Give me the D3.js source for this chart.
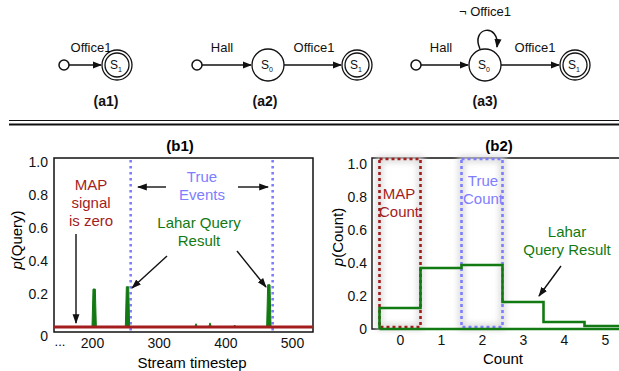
<!DOCTYPE html>
<html>
<head>
<meta charset="utf-8">
<script src="https://cdn.jsdelivr.net/npm/d3@7"></script>
<style>
  body { margin: 0; background: #fff; }
  text { font-family: "Liberation Sans", Arial, Helvetica, sans-serif; }
</style>
</head>
<body>
<script>
// Donnees
var yTicks = [0, 0.2, 0.4, 0.6, 0.8, 1.0]
var timeTicks = [200, 300, 400, 500]
var trueEvents = [258, 471]
var laharTime = [143, 200, 201.5, 205, 206.5, 250, 251.5, 255, 256.5, 354, 356, 358, 375, 377, 379, 412, 414, 416, 462, 463.5, 467, 468.5, 531]
var laharProb = [0, 0, 0.23, 0.23, 0, 0, 0.244, 0.244, 0, 0, 0.02, 0, 0, 0.025, 0, 0, 0.012, 0, 0, 0.256, 0.256, 0, 0]
var mapSignal = [[143, 0], [531, 0]]

var counts = [0, 1, 2, 3, 4, 5]
var countProb = [0.127, 0.37, 0.388, 0.164, 0.042, 0.018]
var mapCount = 0
var trueCount = 2

// Couleurs
var colours = {
    red: '#a31d1d',
    green: '#127a12',
    blue: '#7d7dff',
    ink: '#111'
}

var svg = d3.select('body').append('svg')
    .attr('width', 619)
    .attr('height', 371)

var defs = svg.append('defs')
defs.append('marker')
    .attr('id', 'head')
    .attr('viewBox', '0 0 10 10')
    .attr('refX', 9).attr('refY', 5)
    .attr('markerWidth', 6).attr('markerHeight', 6)
    .attr('markerUnits', 'strokeWidth')
    .attr('orient', 'auto')
    .append('path').attr('d', 'M0,1 L10,5 L0,9 z').attr('fill', colours.ink)
defs.append('marker')
    .attr('id', 'headSmall')
    .attr('viewBox', '0 0 10 10')
    .attr('refX', 9).attr('refY', 5)
    .attr('markerWidth', 7).attr('markerHeight', 7)
    .attr('markerUnits', 'strokeWidth')
    .attr('orient', 'auto')
    .append('path').attr('d', 'M0,1.5 L10,5 L0,8.5 z').attr('fill', colours.ink)
defs.append('filter').attr('id', 'glow')
    .attr('x', '-50%').attr('y', '-10%').attr('width', '200%').attr('height', '120%')
    .append('feGaussianBlur').attr('stdDeviation', 3)

// ---------- (a) automates ----------
var diag = svg.append('g')
var cy = 65

function startDot(x) {
    diag.append('circle').attr('cx', x).attr('cy', cy).attr('r', 5)
        .attr('fill', 'white').attr('stroke', colours.ink).attr('stroke-width', 1.5)
}
function edge(x0, x1) {
    diag.append('line').attr('x1', x0).attr('x2', x1).attr('y1', cy).attr('y2', cy)
        .attr('stroke', colours.ink).attr('stroke-width', 1.5)
        .attr('marker-end', 'url(#head)')
}
function stateNode(x, sub, accept) {
    diag.append('circle').attr('cx', x).attr('cy', cy).attr('r', accept ? 15 : 16)
        .attr('fill', 'white').attr('stroke', colours.ink).attr('stroke-width', 1.3)
    if (accept) {
        diag.append('circle').attr('cx', x).attr('cy', cy).attr('r', 12)
            .attr('fill', 'none').attr('stroke', colours.ink).attr('stroke-width', 1.3)
    }
    var t = diag.append('text').attr('x', x - 1).attr('y', cy + 4)
        .attr('text-anchor', 'middle').attr('font-size', 12).attr('fill', colours.ink)
    t.append('tspan').text('S')
    t.append('tspan').attr('font-size', 7).attr('dy', 3).text(sub)
}
function label(x, y, txt, bold) {
    diag.append('text').attr('x', x).attr('y', y).attr('text-anchor', 'middle')
        .attr('font-size', bold ? 14 : 13)
        .attr('font-weight', bold ? 'bold' : 'normal')
        .attr('fill', colours.ink).text(txt)
}

// a1
startDot(64)
edge(69, 101)
stateNode(117, '1', true)
label(91, 52, 'Office1')
label(106, 106, '(a1)', true)

// a2
startDot(197)
edge(202, 251)
stateNode(268, '0', false)
edge(284, 341)
stateNode(357, '1', true)
label(222, 52, 'Hall')
label(314, 52, 'Office1')
label(265, 106, '(a2)', true)

// a3
startDot(416)
edge(421, 468)
stateNode(485, '0', false)
edge(501, 559)
stateNode(575, '1', true)
label(441, 52, 'Hall')
label(535, 52, 'Office1')
label(485, 16, '\u00ac Office1')
label(485, 106, '(a3)', true)
diag.append('path')
    .attr('d', 'M480,49 C470,27 500,22 497,47')
    .attr('fill', 'none').attr('stroke', colours.ink).attr('stroke-width', 1.5)
    .attr('marker-end', 'url(#head)')

// separateur
svg.append('line').attr('x1', 9).attr('x2', 619).attr('y1', 120.5).attr('y2', 120.5)
    .attr('stroke', colours.ink).attr('stroke-width', 1.2)
svg.append('line').attr('x1', 9).attr('x2', 619).attr('y1', 124.5).attr('y2', 124.5)
    .attr('stroke', colours.ink).attr('stroke-width', 2)

// ---------- (b1) ----------
var x1 = d3.scaleLinear().domain([200, 500]).range([92, 292])
var y1 = d3.scaleLinear().domain([0, 1]).range([327, 162])
var b1 = svg.append('g')

b1.append('rect').attr('x', 54).attr('y', 158).attr('width', 259).attr('height', 174)
    .attr('fill', 'white').attr('stroke', colours.ink).attr('stroke-width', 1.5)

b1.selectAll('.truth').data(trueEvents).join('line')
    .attr('class', 'truth')
    .attr('x1', d => x1(d)).attr('x2', d => x1(d))
    .attr('y1', 160).attr('y2', 331)
    .attr('stroke', colours.blue).attr('stroke-width', 2.6)
    .attr('stroke-dasharray', '2.4,3.6')

var laharPts = laharTime.map((t, i) => [t, laharProb[i]])
b1.append('path')
    .attr('d', d3.area().x(d => x1(d[0])).y0(y1(0)).y1(d => y1(d[1]))(laharPts))
    .attr('fill', colours.green).attr('stroke', colours.green).attr('stroke-width', 1)
    .attr('stroke-linejoin', 'round')

b1.append('path')
    .attr('d', d3.line().x(d => x1(d[0])).y(d => y1(d[1]))(mapSignal))
    .attr('stroke', colours.red).attr('stroke-width', 3.2).attr('fill', 'none')

var yAx1 = b1.append('g').attr('transform', 'translate(54,0)')
    .call(d3.axisLeft(y1).tickValues(yTicks).tickSize(0).tickPadding(6)
        .tickFormat(d => d === 0 ? '0' : d3.format('.1f')(d)))
yAx1.select('.domain').remove()
yAx1.selectAll('text').attr('font-size', 14).attr('fill', colours.ink)
    .attr('font-family', '"Liberation Sans", Arial, sans-serif')
yAx1.selectAll('.tick').filter(d => d === 0).select('text').attr('dy', '0.95em')

var xAx1 = b1.append('g').attr('transform', 'translate(0,332)')
    .call(d3.axisBottom(x1).tickValues(timeTicks).tickSize(0).tickPadding(6))
xAx1.select('.domain').remove()
xAx1.selectAll('text').attr('font-size', 14).attr('fill', colours.ink)
    .attr('font-family', '"Liberation Sans", Arial, sans-serif')

b1.append('text').attr('x', 60).attr('y', 346).attr('text-anchor', 'middle')
    .attr('font-size', 13).text('...')
b1.append('text').attr('x', 192).attr('y', 368).attr('text-anchor', 'middle')
    .attr('font-size', 15).text('Stream timestep')
b1.append('text').attr('x', 180).attr('y', 151).attr('text-anchor', 'middle')
    .attr('font-size', 15).attr('font-weight', 'bold').text('(b1)')
var yl1 = b1.append('text').attr('transform', 'translate(22,240) rotate(-90)')
    .attr('text-anchor', 'middle').attr('font-size', 15)
yl1.append('tspan').attr('font-style', 'italic').text('p')
yl1.append('tspan').text('(Query)')

function note(g, x, y, lines, colour, size) {
    var t = g.append('text').attr('text-anchor', 'middle').attr('font-size', size || 15)
        .attr('fill', colour)
    lines.forEach((l, i) => {
        t.append('tspan').attr('x', x).attr('y', y + i * 18).text(l)
    })
}
function arrow(g, xa, ya, xb, yb) {
    g.append('line').attr('x1', xa).attr('y1', ya).attr('x2', xb).attr('y2', yb)
        .attr('stroke', colours.ink).attr('stroke-width', 1.4)
        .attr('marker-end', 'url(#headSmall)')
}

note(b1, 91, 190, ['MAP', 'signal', 'is zero'], colours.red)
note(b1, 202, 182, ['True', 'Events'], colours.blue)
note(b1, 199, 228, ['Lahar Query', 'Result'], colours.green)
arrow(b1, 76, 234, 76, 323)
arrow(b1, 166, 187, 138, 187)
arrow(b1, 238, 187, 268, 187)
arrow(b1, 167, 256, 132, 288)
arrow(b1, 237, 251, 266, 287)

// ---------- (b2) ----------
var x2 = d3.scaleLinear().domain([0, 5]).range([400, 605])
var y2 = d3.scaleLinear().domain([0, 1]).range([329, 164])
var b2 = svg.append('g')

b2.append('path').attr('d', 'M640,158 H372 V329 H640')
    .attr('fill', 'white').attr('stroke', colours.ink).attr('stroke-width', 1.5)

function countBox(c, colour) {
    var bx = x2(c - 0.5), bw = x2(c + 0.5) - x2(c - 0.5)
    var by = y2(1.03), bh = y2(0.012) - y2(1.03)
    b2.append('rect').attr('x', bx).attr('y', by).attr('width', bw).attr('height', bh)
        .attr('fill', 'none').attr('stroke', '#d8d8d8').attr('stroke-width', 6)
        .attr('filter', 'url(#glow)')
    b2.append('rect').attr('x', bx).attr('y', by).attr('width', bw).attr('height', bh)
        .attr('fill', 'none').attr('stroke', colour).attr('stroke-width', 2.6)
        .attr('stroke-dasharray', '3,3')
}
countBox(mapCount, colours.red)
countBox(trueCount, colours.blue)

var stepPts = [[-0.5, 0]].concat(counts.map((c, i) => [c - 0.5, countProb[i]]))
stepPts.push([6, countProb[countProb.length - 1]])
b2.append('path')
    .attr('d', d3.line().curve(d3.curveStepAfter).x(d => x2(d[0])).y(d => y2(d[1]))(stepPts))
    .attr('fill', 'none').attr('stroke', colours.green).attr('stroke-width', 2.6)
b2.append('line').attr('x1', x2(-0.5)).attr('x2', 640).attr('y1', y2(0)).attr('y2', y2(0))
    .attr('stroke', colours.green).attr('stroke-width', 2.6)

var yAx2 = b2.append('g').attr('transform', 'translate(372,0)')
    .call(d3.axisLeft(y2).tickValues(yTicks).tickSize(0).tickPadding(5)
        .tickFormat(d => d === 0 ? '0' : d3.format('.1f')(d)))
yAx2.select('.domain').remove()
yAx2.selectAll('text').attr('font-size', 14).attr('fill', colours.ink)
    .attr('font-family', '"Liberation Sans", Arial, sans-serif')

var xAx2 = b2.append('g').attr('transform', 'translate(0,329)')
    .call(d3.axisBottom(x2).tickValues(counts).tickSize(0).tickPadding(6)
        .tickFormat(d3.format('d')))
xAx2.select('.domain').remove()
xAx2.selectAll('text').attr('font-size', 14).attr('fill', colours.ink)
    .attr('font-family', '"Liberation Sans", Arial, sans-serif')

b2.append('text').attr('x', 503).attr('y', 364).attr('text-anchor', 'middle')
    .attr('font-size', 15).text('Count')
b2.append('text').attr('x', 499).attr('y', 151).attr('text-anchor', 'middle')
    .attr('font-size', 15).attr('font-weight', 'bold').text('(b2)')
var yl2 = b2.append('text').attr('transform', 'translate(343,237) rotate(-90)')
    .attr('text-anchor', 'middle').attr('font-size', 15)
yl2.append('tspan').attr('font-style', 'italic').text('p')
yl2.append('tspan').text('(Count)')

note(b2, 399, 199, ['MAP', 'Count'], colours.red)
note(b2, 483, 186, ['True', 'Count'], colours.blue)
note(b2, 567, 237, ['Lahar', 'Query Result'], colours.green)
arrow(b2, 561, 266, 539, 296)
</script>
</body>
</html>
